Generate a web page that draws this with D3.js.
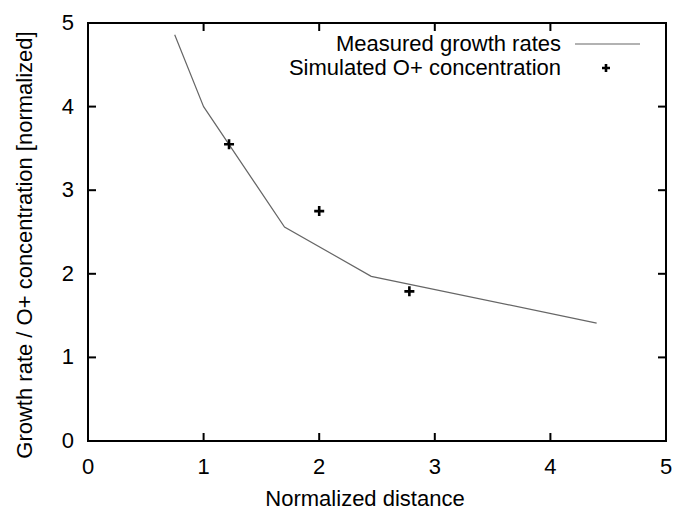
<!DOCTYPE html>
<html>
<head>
<meta charset="utf-8">
<script src="https://cdn.jsdelivr.net/npm/d3@7"></script>
<style>
  body { margin: 0; background: #fff; }
  text { font-family: "Liberation Sans", Arial, sans-serif; fill: #000; }
</style>
</head>
<body>
<script>
// measured growth rates (line)
var measuredX = [0.75, 1.0, 1.70, 2.45, 4.40];
var measuredY = [4.86, 4.0, 2.56, 1.97, 1.41];
// simulated O+ concentration (points)
var simX = [1.22, 2.0, 2.78];
var simY = [3.55, 2.75, 1.79];
var xTicks = [0, 1, 2, 3, 4, 5];
var yTicks = [0, 1, 2, 3, 4, 5];

var w = 678, h = 514;
var mLeft = 88, mRight = 666, mTop = 23, mBottom = 441;

var svg = d3.select("body").append("svg")
    .attr("width", w)
    .attr("height", h);

var x = d3.scaleLinear().domain([0, 5]).range([mLeft, mRight]);
var y = d3.scaleLinear().domain([0, 5]).range([mBottom, mTop]);

var tickLen = 8;
var fs = 22;

// ticks on all four sides, pointing inward
var g = svg.append("g");
g.selectAll(".xb").data(xTicks.slice(1, -1)).enter().append("line")
    .attr("x1", d => x(d)).attr("x2", d => x(d))
    .attr("y1", mBottom).attr("y2", mBottom - tickLen);
g.selectAll(".xt").data(xTicks.slice(1, -1)).enter().append("line")
    .attr("x1", d => x(d)).attr("x2", d => x(d))
    .attr("y1", mTop).attr("y2", mTop + tickLen);
g.selectAll(".yl").data(yTicks.slice(1, -1)).enter().append("line")
    .attr("x1", mLeft).attr("x2", mLeft + tickLen)
    .attr("y1", d => y(d)).attr("y2", d => y(d));
g.selectAll(".yr").data(yTicks.slice(1, -1)).enter().append("line")
    .attr("x1", mRight).attr("x2", mRight - tickLen)
    .attr("y1", d => y(d)).attr("y2", d => y(d));
g.selectAll("line").attr("stroke", "#000").attr("stroke-width", 2);

// tick labels
svg.append("g").selectAll("text").data(xTicks).enter().append("text")
    .attr("x", d => x(d)).attr("y", mBottom + 33)
    .attr("text-anchor", "middle")
    .attr("font-size", fs)
    .text(d => d);
svg.append("g").selectAll("text").data(yTicks).enter().append("text")
    .attr("x", mLeft - 14).attr("y", d => y(d) + 7)
    .attr("text-anchor", "end")
    .attr("font-size", fs)
    .text(d => d);

// frame
svg.append("rect")
    .attr("x", mLeft).attr("y", mTop)
    .attr("width", mRight - mLeft).attr("height", mBottom - mTop)
    .attr("fill", "none")
    .attr("stroke", "#000")
    .attr("stroke-width", 2);

// axis titles
svg.append("text")
    .attr("x", (mLeft + mRight) / 2 - 12).attr("y", 506)
    .attr("text-anchor", "middle")
    .attr("font-size", fs)
    .text("Normalized distance");
svg.append("text")
    .attr("transform", "translate(32,245) rotate(-90)")
    .attr("text-anchor", "middle")
    .attr("font-size", fs)
    .text("Growth rate / O+ concentration [normalized]");

// measured line
var line = d3.line().x(d => x(d[0])).y(d => y(d[1]));
svg.append("path")
    .datum(d3.zip(measuredX, measuredY))
    .attr("d", line)
    .attr("fill", "none")
    .attr("stroke", "#666")
    .attr("stroke-width", 1.2);

// simulated points
function drawPlus(sel, px, py, s) {
  sel.append("path")
    .attr("d", "M" + (px - s) + "," + py + "H" + (px + s) + "M" + px + "," + (py - s) + "V" + (py + s))
    .attr("stroke", "#000")
    .attr("stroke-width", 2.6);
}
var pts = svg.append("g");
d3.zip(simX, simY).forEach(function(d) {
  drawPlus(pts, x(d[0]), y(d[1]), 5);
});

// legend
svg.append("text")
    .attr("x", 561).attr("y", 51)
    .attr("text-anchor", "end")
    .attr("font-size", fs)
    .text("Measured growth rates");
svg.append("line")
    .attr("x1", 575).attr("x2", 640)
    .attr("y1", 44).attr("y2", 44)
    .attr("stroke", "#666")
    .attr("stroke-width", 1.2);
svg.append("text")
    .attr("x", 561).attr("y", 75)
    .attr("text-anchor", "end")
    .attr("font-size", fs)
    .text("Simulated O+ concentration");
drawPlus(svg, 606, 68, 4);
</script>
</body>
</html>
